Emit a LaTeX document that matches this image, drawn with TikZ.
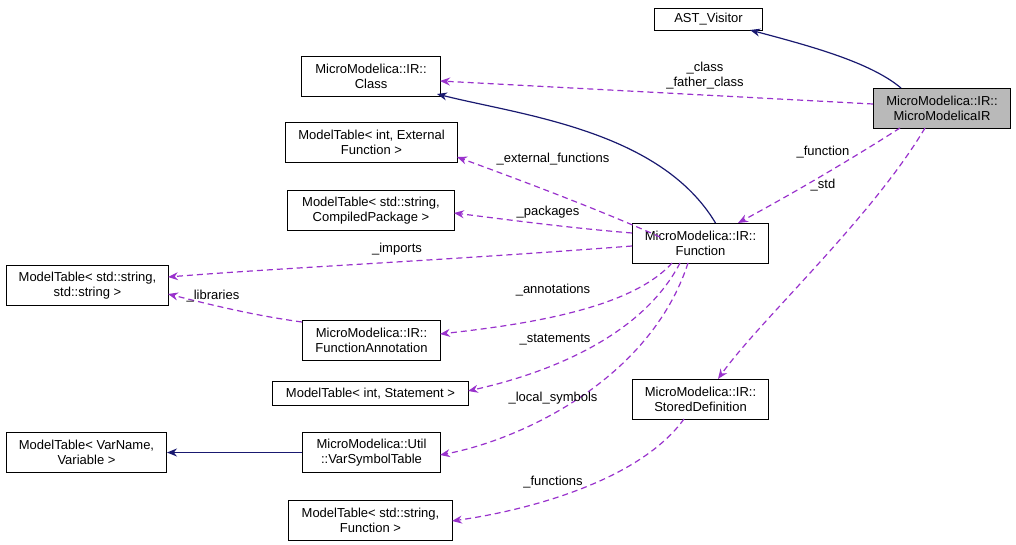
\documentclass[tikz,border=0pt]{standalone}
\usepackage{fontspec}
\setmainfont{Liberation Sans}
\usetikzlibrary{arrows.meta}
\definecolor{navy}{RGB}{25,25,112}
\definecolor{purp}{RGB}{153,50,204}
\begin{document}
\begin{tikzpicture}[x=1pt,y=-1pt,line width=1pt,
  box/.style={draw,fill=white,align=center,font=\fontsize{13}{15}\selectfont,inner sep=0pt,anchor=north west},
  inh/.style={navy,line width=1.2pt,-{Stealth[length=10pt,width=8pt]}},
  use/.style={purp,line width=1.2pt,dash pattern=on 6pt off 4pt,-{Stealth[length=10pt,width=8pt]}},
  lab/.style={font=\fontsize{13}{15}\selectfont,align=center}]
\useasboundingbox (0,0) rectangle (1016,545);
\newcommand\bx[6]{\node[box,minimum width=#4-#2,minimum height=#5-#3] (#1) at (#2,#3) {#6};}
\bx{ast}{654}{8}{762}{30}{AST\_Visitor}
\node[box,fill=gray!55,minimum width=137,minimum height=40] (mm) at (873,88) {MicroModelica::IR::\\MicroModelicaIR};
\bx{cls}{301}{56}{440}{96}{MicroModelica::IR::\\Class}
\bx{ext}{285}{122}{457}{162}{ModelTable< int, External\\Function >}
\bx{pkg}{287}{190}{454}{230}{ModelTable< std::string,\\CompiledPackage >}
\bx{fn}{632}{223}{768}{263}{MicroModelica::IR::\\Function}
\bx{ss}{6}{265}{168}{305}{ModelTable< std::string,\\std::string >}
\bx{ann}{302}{320}{440}{360}{MicroModelica::IR::\\FunctionAnnotation}
\bx{st}{272}{381}{468}{405}{ModelTable< int, Statement >}
\bx{sd}{632}{379}{768}{419}{MicroModelica::IR::\\StoredDefinition}
\bx{vv}{6}{432}{166}{472}{ModelTable< VarName,\\Variable >}
\bx{vst}{302}{432}{440}{472}{MicroModelica::Util\\::VarSymbolTable}
\bx{mf}{288}{500}{452}{540}{ModelTable< std::string,\\Function >}

\draw[inh] (mm.north west)++(28,0) .. controls (870,62) and (810,46) .. (750,30);
\draw[inh] (fn.north)++(15,0) .. controls (660,130) and (520,115) .. (437,94);
\draw[inh] (vst.west) -- (vv.east);
\draw[use] (mm.west|-0,104) -- (440,81);
\node[lab] at (705,76) {\_class\\\_father\_class};
\draw[use] (900,128) .. controls (850,160) and (790,195) .. (738,223);
\node[lab] at (823,152) {\_function};
\draw[use] (925,128) .. controls (870,220) and (760,320) .. (718,379);
\node[lab] at (823,185) {\_std};
\draw[use] (660,237) .. controls (600,210) and (520,180) .. (457,157);
\node[lab] at (553,159) {\_external\_functions};
\draw[use] (632,233) .. controls (570,228) and (510,220) .. (454,213);
\node[lab] at (548,212) {\_packages};
\draw[use] (632,246) .. controls (450,260) and (280,268) .. (168,277);
\node[lab] at (397,249) {\_imports};
\draw[use] (302,322) .. controls (250,315) and (200,302) .. (168,294);
\node[lab] at (213,296) {\_libraries};
\draw[use] (672,263) .. controls (630,310) and (520,325) .. (440,334);
\node[lab] at (553,290) {\_annotations};
\draw[use] (680,263) .. controls (640,340) and (540,375) .. (468,391);
\node[lab] at (555,340) {\_statements};
\draw[use] (688,263) .. controls (650,380) and (520,440) .. (440,455);
\node[lab] at (553,398) {\_local\_symbols};
\draw[use] (684,419) .. controls (640,480) and (530,510) .. (452,521);
\node[lab] at (553,482) {\_functions};
\end{tikzpicture}
\end{document}
